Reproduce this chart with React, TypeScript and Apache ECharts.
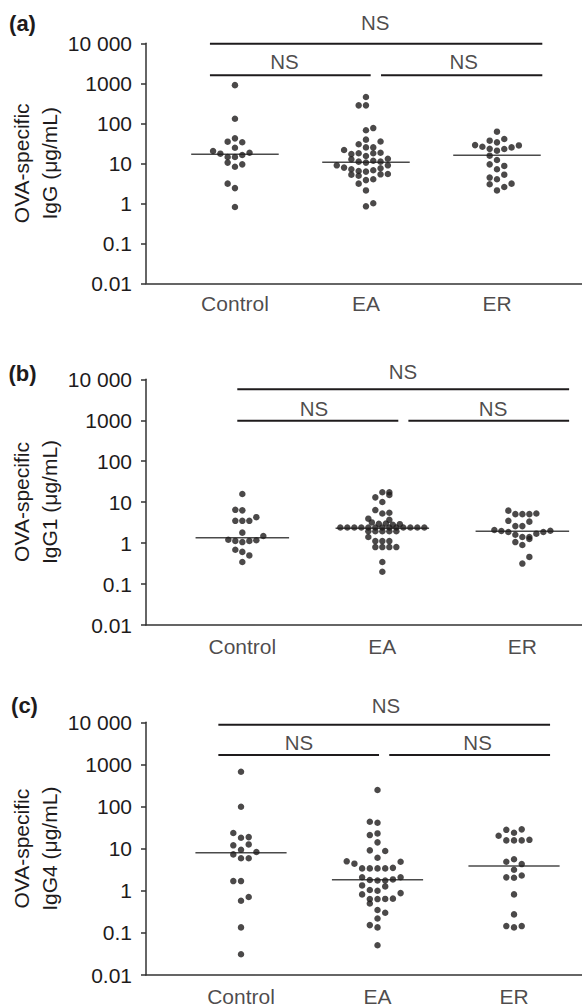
import React, { useEffect, useRef } from "react";
import * as echarts from "echarts";

// ---------- texts ----------
const categories = ["Control", "EA", "ER"];
const yTickLabels = ["0.01", "0.1", "1", "10", "100", "1000", "10 000"];
const panelLetters = ["(a)", "(b)", "(c)"];
const yTitles = [
  "OVA-specific\nIgG (μg/mL)",
  "OVA-specific\nIgG1 (μg/mL)",
  "OVA-specific\nIgG4 (μg/mL)",
];
const significance = ["NS", "NS", "NS"]; // Control–EA, EA–ER, Control–ER

// ---------- (a) IgG ----------
const iggControl = [900, 130, 42, 34.7, 33.6, 24.5, 20.3, 17.4, 18.4, 14.4, 14.4, 16.1, 10.4, 9.4, 8.2, 3.1, 2.4, 0.81];
const iggControlSlot = [0, 0, 0, -1, 1, 0, -3, -2, 2, -1, 0, 1, -1, 1, 0, -1, 0, 0];
const iggEA = [454, 281, 281, 76, 67, 39, 35, 30, 25, 25, 21.5, 17, 17.8, 15.2, 17.8, 18.4, 12.6, 13, 11, 10.4, 11.6, 11, 8.9, 8.9, 7.8, 7.1, 6.4, 6.2, 6.7, 7.5, 5.2, 4.9, 5.3, 5.4, 3.8, 4.0, 3.1, 2.1, 0.84, 1.0];
const iggEASlot = [0, -1, 0, 1, 0, 0, 2, -1, 0, 1, -3, -2, -1, 0, 1, 2, -2, 3, -1, 0, 1, 2, -4, 3, -3, -2, -1, 0, 1, 2, -2, -1, 2, 3, 0, 1, -1, 0, 0, 1];
const iggER = [61.8, 36.8, 33.4, 40.5, 28.5, 26, 23, 20.7, 22.8, 25, 28, 15.5, 12.1, 9.4, 8.6, 7.1, 4.4, 5.2, 4.0, 3.0, 2.56, 3.1, 2.1];
const iggERSlot = [0, -1, 0, 1, -3, -2, -1, 0, 1, 2, 3, -1, 0, -1, 1, 0, -1, 1, 0, -1, 1, 2, 0];
const iggMedians = [16.8, 10.6, 15.8];

// ---------- (b) IgG1 ----------
const igg1Control = [15.8, 6.5, 6.3, 3.5, 3.5, 3.5, 4.3, 1.8, 1.49, 1.21, 1.13, 1.06, 1.13, 1.17, 0.69, 0.61, 0.5, 0.345];
const igg1ControlSlot = [0, -1, 0, -1, 0, 1, 2, 0, 3, -2, -1, 0, 1, 2, -1, 0, 1, 0];
const igg1EA = [
  17.4, 17.4, 15, 13.1, 10.1, 6.4, 5.3, 5.5,
  3.95, 3.7,
  3.2, 2.95, 3.0, 2.8, 2.9,
  2.4, 2.4, 2.4, 2.4, 2.4, 2.4, 2.4, 2.4, 2.4, 2.4, 2.4, 2.4, 2.4,
  1.95, 1.95, 1.95, 1.95, 1.95,
  1.41, 1.12, 1.12, 1.12, 0.8, 0.8, 0.8, 0.8, 0.345, 0.2,
];
const igg1EASlot = [
  0, 1, 1, -1, 0, -1, 0, 1,
  -2, 1,
  -1.5, -0.5, 0.5, 1.5, 2.5,
  -6, -5, -4, -3, -2, -1, 0, 1, 2, 3, 4, 5, 6,
  -2, -1, 0, 1, 2,
  -2, -1, 0, 1, -1, 0, 1, 2, 0, 0,
];
const igg1ER = [6.2, 5.1, 5.1, 5.1, 5.3, 3.5, 2.6, 2.6, 3.34, 2.09, 1.97, 1.87, 1.6, 1.41, 1.41, 1.26, 1.7, 1.87, 2.0, 1.06, 0.9, 0.46, 0.316];
const igg1ERSlot = [-2, -1, 0, 1, 2, -2, -1, 0, 1, -4, -3, -2, -1, 0, 1, 1, 2, 3, 4, -1, 0, 1, 0];
const igg1Medians = [1.36, 2.3, 1.95];

// ---------- (c) IgG4 ----------
const igg4Control = [671, 99, 23.5, 18.2, 18.8, 12, 12.6, 9.4, 8.3, 7.3, 5.9, 5.9, 1.7, 1.7, 0.58, 0.71, 0.135, 0.031];
const igg4ControlSlot = [0, 0, -1, 0, 1, -1, 1, 0, 2, -1, 0, 1, -1, 0, 0, 1, 0, 0];
const igg4EA = [247, 43.6, 41.3, 21, 23, 14.1, 9.1, 8.8, 6.1, 5.0, 4.4, 3.4, 3.4, 3.4, 3.4, 3.5, 4.9, 2.1, 1.8, 1.75, 1.75, 1.86, 2.1, 1.34, 1.04, 1.0, 1.27, 0.82, 0.635, 0.635, 0.64, 0.65, 0.88, 0.5, 0.35, 0.3, 0.22, 0.153, 0.135, 0.051];
const igg4EASlot = [0, -1, 0, -1, 0, 0, -1, 1, 0, -4, -3, -2, -1, 0, 1, 2, 3, -2, -1, 0, 1, 2, 3, -2, -1, 0, 1, -2, -1, 0, 1, 2, 3, -1, 0, 1, 0, -1, 0, 0];
const igg4ER = [28, 23.9, 28.7, 20.3, 15.7, 15.7, 15.7, 16.2, 4.9, 5.6, 4.3, 3.16, 2.08, 2.04, 2.3, 0.82, 0.275, 0.145, 0.135, 0.145];
const igg4ERSlot = [-1, 0, 1, -2, -1, 0, 1, 2, -1, 0, 1, 0, -1, 0, 1, 0, 0, -1, 0, 1];
const igg4Medians = [8.0, 1.83, 3.86];

const panelData = [
  { values: [iggControl, iggEA, iggER], slots: [iggControlSlot, iggEASlot, iggERSlot], medians: iggMedians },
  { values: [igg1Control, igg1EA, igg1ER], slots: [igg1ControlSlot, igg1EASlot, igg1ERSlot], medians: igg1Medians },
  { values: [igg4Control, igg4EA, igg4ER], slots: [igg4ControlSlot, igg4EASlot, igg4ERSlot], medians: igg4Medians },
];

// ---------- layout (positions / styles) ----------
const FONT = "'Liberation Sans', Arial, Helvetica, sans-serif";
const INK = "#1e1b1c";
const AXIS = "#333333";
const GRID_LEFT = 146;
const GRID_WIDTH = 436;
const MED_HALF = 0.334;

const panels = [
  {
    top: 43.3, height: 240, xMin: 0.321, xMax: 3.649, step: 0.0557, catOffset: 20.5,
    letter: [22.5, 23], titleY: 163.3,
    br: { ll: [0.809, 2.036], lr: [2.115, 3.346], top: [0.809, 3.346], lowY: 1585, topY: 9770, nsX: [1.378, 2.746, 2.07], nsDy: [-13.5, -13.5, -21.5] },
  },
  {
    top: 379.3, height: 245.7, xMin: 0.312, xMax: 3.426, step: 0.05, catOffset: 21.7,
    letter: [22.5, 373], titleY: 502,
    br: { ll: [0.964, 2.114], lr: [2.186, 3.334], top: [0.964, 3.334], lowY: 975, topY: 5700, nsX: [1.512, 2.791, 2.147], nsDy: [-12.7, -12.7, -17.6] },
  },
  {
    top: 722.3, height: 252.7, xMin: 0.304, xMax: 3.498, step: 0.0564, catOffset: 21.5,
    letter: [24.5, 705], titleY: 848.7,
    br: { ll: [0.834, 2.011], lr: [2.086, 3.264], top: [0.834, 3.264], lowY: 1671, topY: 8770, nsX: [1.425, 2.733, 2.062], nsDy: [-12.5, -12.5, -19] },
  },
];

function buildOption(): any {
  const grid: any[] = [];
  const xAxis: any[] = [];
  const yAxis: any[] = [];
  const series: any[] = [];
  const graphic: any[] = [];

  panels.forEach((p, pi) => {
    const d = panelData[pi];
    grid.push({ left: GRID_LEFT, width: GRID_WIDTH, top: p.top, height: p.height });
    xAxis.push({
      type: "value", gridIndex: pi, min: p.xMin, max: p.xMax,
      axisLine: { show: true, onZero: false, lineStyle: { color: AXIS, width: 1.5 } },
      axisTick: { show: false }, axisLabel: { show: false }, splitLine: { show: false },
    });
    yAxis.push({
      type: "log", logBase: 10, gridIndex: pi, min: 0.01, max: 10000, splitNumber: 6,
      axisLine: { show: true, lineStyle: { color: AXIS, width: 1.5 } },
      axisTick: { show: true, length: 5, lineStyle: { color: AXIS, width: 1.5 } },
      minorTick: { show: false },
      splitLine: { show: false },
      axisLabel: {
        margin: 14, fontSize: 21, color: INK, fontFamily: FONT,
        formatter: (v: number) => {
          const e = Math.round(Math.log10(v));
          return yTickLabels[e + 2] ?? "";
        },
      },
    });

    // medians
    d.medians.forEach((m, g) => {
      series.push({
        type: "line", xAxisIndex: pi, yAxisIndex: pi, silent: true, z: 2,
        data: [[g + 1 - MED_HALF, m], [g + 1 + MED_HALF, m]],
        symbol: "none", lineStyle: { color: "#4a4a4a", width: 1.5 },
      });
    });

    // dots
    d.values.forEach((vals, g) => {
      series.push({
        type: "scatter", xAxisIndex: pi, yAxisIndex: pi, silent: true, z: 3,
        symbol: "circle", symbolSize: 6.5,
        itemStyle: { color: INK },
        data: vals.map((v, i) => [g + 1 + d.slots[g][i] * p.step, v]),
      });
    });

    // brackets
    const b = p.br;
    [[b.ll, b.lowY], [b.lr, b.lowY], [b.top, b.topY]].forEach(([xs, y]: any) => {
      series.push({
        type: "line", xAxisIndex: pi, yAxisIndex: pi, silent: true, z: 2, clip: false,
        data: [[xs[0], y], [xs[1], y]],
        symbol: "none", lineStyle: { color: INK, width: 2 },
      });
    });

    // NS labels
    series.push({
      type: "scatter", xAxisIndex: pi, yAxisIndex: pi, silent: true, clip: false,
      symbolSize: 0,
      data: significance.map((s, k) => ({
        name: s,
        value: [b.nsX[k], k < 2 ? b.lowY : b.topY],
        label: { offset: [0, b.nsDy[k]] },
      })),
      label: {
        show: true, position: "inside", formatter: "{b}",
        fontSize: 20.5, color: INK, fontFamily: FONT,
      },
    });

    // category labels
    series.push({
      type: "scatter", xAxisIndex: pi, yAxisIndex: pi, silent: true, clip: false,
      symbolSize: 0,
      data: categories.map((c, i) => ({ name: c, value: [i + 1, 0.01] })),
      label: {
        show: true, position: "inside", formatter: "{b}", offset: [0, p.catOffset],
        fontSize: 21, color: INK, fontFamily: FONT,
      },
    });

    graphic.push({
      type: "text", x: p.letter[0], y: p.letter[1], silent: true,
      style: {
        text: panelLetters[pi], fill: INK, font: `bold 22px ${FONT}`,
        align: "center", verticalAlign: "middle", textAlign: "center", textVerticalAlign: "middle",
      },
    });
    graphic.push({
      type: "text", x: 35.8, y: p.titleY, rotation: Math.PI / 2, silent: true,
      style: {
        text: yTitles[pi], fill: INK, font: `21px ${FONT}`, lineHeight: 28.3,
        align: "center", verticalAlign: "middle", textAlign: "center", textVerticalAlign: "middle",
      },
    });
  });

  return {
    animation: false,
    backgroundColor: "#ffffff",
    textStyle: { fontFamily: FONT },
    grid, xAxis, yAxis, series, graphic,
  };
}

export default function App() {
  const ref = useRef<HTMLDivElement>(null);
  useEffect(() => {
    if (!ref.current) return;
    const chart = echarts.init(ref.current, undefined, { renderer: "svg" });
    chart.setOption(buildOption());
    return () => chart.dispose();
  }, []);
  return (
    <div
      ref={ref}
      style={{ position: "fixed", left: 0, top: 0, width: 582, height: 1007, background: "#fff" }}
    />
  );
}
